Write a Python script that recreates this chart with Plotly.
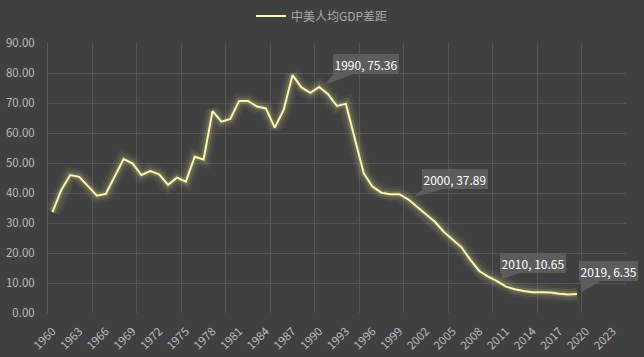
import plotly.graph_objects as go

years = list(range(1960, 2020))
gap = [33.6, 41.0, 46.0, 45.4, 42.3, 39.1, 39.7, 45.4, 51.3, 49.9,
       46.0, 47.3, 46.2, 42.7, 45.1, 43.8, 52.1, 51.2, 67.3, 63.8,
       64.7, 70.7, 70.7, 68.8, 68.2, 61.8, 67.7, 79.3, 75.2, 73.4,
       75.36, 72.9, 69.0, 69.7, 58.2, 46.6, 42.1, 40.1, 39.6, 39.6,
       37.89, 35.4, 32.9, 30.4, 27.1, 24.6, 21.9, 17.7, 14.0, 12.1,
       10.65, 8.8, 7.9, 7.3, 6.9, 6.9, 6.8, 6.4, 6.2, 6.35]
series_name = "中美人均GDP差距"
label_years = [1990, 2000, 2010, 2019]
tick_years = list(range(1960, 2024, 3))
y_ticks = [0, 10, 20, 30, 40, 50, 60, 70, 80, 90]

# styling: callout offsets in pixels (box centre dx, dy-up; box left, bottom-up)
callout_style = {
    1990: dict(cx=46.5, cy=22.5, left=14, bottom=13.5),
    2000: dict(cx=46.7, cy=20.0, left=14, bottom=10.3),
    2010: dict(cx=35.6, cy=17.8, left=3.5, bottom=8.7),
    2019: dict(cx=31.6, cy=22.5, left=2, bottom=13.3),
}

BG = "#404040"
GRID = "#555555"
LINE = "#fcf8a6"
FONT = "Noto Sans CJK SC"

fig = go.Figure()
for w, a in [(16, 0.04), (11, 0.07), (6, 0.14)]:
    fig.add_trace(go.Scatter(x=years, y=gap, mode="lines", showlegend=False,
                             hoverinfo="skip",
                             line=dict(color=f"rgba(252,248,166,{a})", width=w)))
fig.add_trace(go.Scatter(x=years, y=gap, mode="lines", name=series_name,
                         line=dict(color=LINE, width=2)))

val = dict(zip(years, gap))
shapes = []
annotations = []
for yr in label_years:
    s = callout_style[yr]
    v = val[yr]
    tip_x, tip_y = 5, 2
    path = (f"M {tip_x},{tip_y} L {s['left'] + 1},{s['bottom']} "
            f"L {s['left'] + 22},{s['bottom']} Z")
    shapes.append(dict(type="path", xref="x", yref="y", xsizemode="pixel",
                       ysizemode="pixel", xanchor=yr, yanchor=v, path=path,
                       fillcolor="rgba(95,95,95,0.9)", line=dict(width=0),
                       layer="above"))
    annotations.append(dict(x=yr, y=v, xref="x", yref="y",
                            text=f"{yr}, {v:.2f}", showarrow=True,
                            arrowcolor="rgba(0,0,0,0)", arrowwidth=0.1,
                            ax=s["cx"], ay=-s["cy"], axref="pixel",
                            bgcolor="rgba(95,95,95,0.9)", borderpad=1.5,
                            borderwidth=0,
                            font=dict(color="#ffffff", size=12, family=FONT)))

minor_grid = [1959.5 + 5 * k for k in range(14)]

fig.update_layout(
    width=644, height=357,
    paper_bgcolor=BG, plot_bgcolor=BG,
    margin=dict(l=48, r=18, t=43, b=44, autoexpand=False),
    font=dict(family=FONT, color="#bbbbbb", size=11),
    showlegend=True,
    legend=dict(orientation="h", x=0.5, xanchor="center", xref="container",
                y=1 - 16 / 357, yanchor="middle", yref="container",
                font=dict(color="#aaaaaa", size=12),
                bgcolor="rgba(0,0,0,0)", itemwidth=30),
    shapes=shapes,
    annotations=annotations,
    xaxis=dict(range=[1959.5, 2024.5], tickmode="array", tickvals=tick_years,
               ticktext=[str(t) for t in tick_years], tickangle=-45,
               showgrid=False, zeroline=False, showline=False, automargin=False,
               ticks="outside", ticklen=6, tickcolor=BG,
               tickfont=dict(color="#bbbbbb", size=11.5),
               minor=dict(tickmode="array", tickvals=minor_grid, showgrid=True,
                          gridcolor=GRID, gridwidth=1, ticks="")),
    yaxis=dict(range=[0, 90], tickmode="array", tickvals=y_ticks,
               ticktext=[f"{t:.2f}" for t in y_ticks], automargin=False,
               showgrid=True, gridcolor=GRID, zeroline=False,
               showline=True, linecolor="#5c5c5c", linewidth=1,
               ticks="outside", ticklen=10, tickcolor=BG,
               tickfont=dict(color="#bbbbbb", size=11.5)),
)

fig.write_html(
    "out.html",
    config={"displayModeBar": False},
    post_script=("document.body.style.margin='0';"
                 "document.body.style.background='%s';"
                 "document.body.style.overflow='hidden';" % BG),
)
